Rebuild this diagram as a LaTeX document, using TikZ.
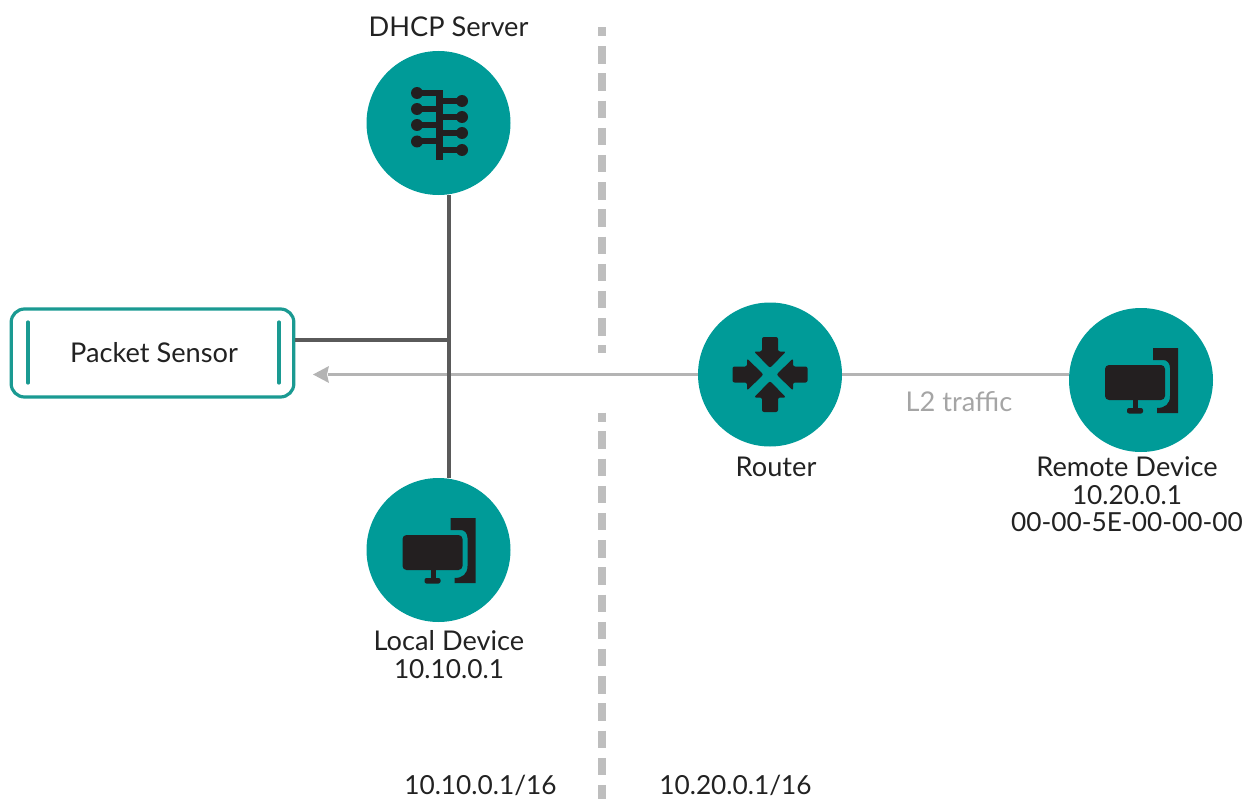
\documentclass[tikz,border=0pt]{standalone}
\usepackage{fontspec}
\setmainfont{Lato}
\definecolor{teal1}{HTML}{009B98}
\definecolor{boxteal}{HTML}{1A9A92}
\definecolor{icon}{HTML}{231F20}
\definecolor{wire}{HTML}{5A5A5A}
\definecolor{lightwire}{HTML}{B4B4B4}
\definecolor{divider}{HTML}{BEBEBE}
\definecolor{txt}{HTML}{222222}
\newcommand{\numsize}{\fontsize{19.7pt}{20.5pt}\selectfont}
\tikzset{
  devcircle/.style={circle,fill=teal1,minimum size=108pt,inner sep=0pt},
  lbl/.style={font=\fontsize{20.4pt}{20.5pt}\selectfont,text=txt,align=center,inner sep=0pt},
  wireline/.style={draw=wire,line width=2.6pt},
  lightline/.style={draw=lightwire,line width=2.8pt},
  divline/.style={draw=divider,line width=6.4pt,dash pattern=on 13.1pt off 7.3pt,dash phase=6.4pt},
  sensorbox/.style={draw=boxteal,line width=2.4pt,rounded corners=10pt,fill=white,minimum width=212pt,minimum height=66pt,inner sep=0pt},
  sensortick/.style={draw=boxteal,line width=2.4pt,line cap=round},
}
\newcommand{\computericon}[1]{%
  \begin{scope}[shift={(#1)}]
    \fill[icon,rounded corners=3pt] (-36,-15) rectangle (24,20);
    \fill[icon] (-8,20) rectangle (-3,31);
    \fill[icon,rounded corners=1.5pt] (-14,28) rectangle (2,33.5);
    \fill[icon] (12,-32) -- (37,-32) -- (37,33) -- (16,33) -- (16,28)
      .. controls (24,28) and (29,24) .. (29,16)
      -- (29,-12) .. controls (29,-17) and (26,-20) .. (22,-20) -- (12,-20) -- cycle;
  \end{scope}}
\newcommand{\routerarrow}[1]{%
  \begin{scope}[rotate=#1]
    \fill[icon,rounded corners=1.5pt] (-8,-37.5) -- (8,-37.5) -- (8,-23) -- (16,-23) -- (0,-6.5) -- (-16,-23) -- (-8,-23) -- cycle;
  \end{scope}}
\begin{document}
\begin{tikzpicture}[x=0.75pt,y=-0.75pt]
\useasboundingbox (0,0) rectangle (1247,799);
% positions
\coordinate (dhcpPos) at (438.5,123);
\coordinate (localPos) at (438.5,550);
\coordinate (routerPos) at (770,374.5);
\coordinate (remotePos) at (1141,380);
\coordinate (divTop) at (602,27.5);
\coordinate (divMidA) at (602,352.5);
\coordinate (divMidB) at (602,412.7);
\coordinate (divBot) at (602,799);
\coordinate (busX) at (449,0);
\coordinate (busJoin) at (449,340);
\coordinate (sensorIn) at (295,340);
\coordinate (arrowEnd) at (313,374.5);
\coordinate (arrowBase) at (328,374.5);
% divider
\draw[divline] (divTop) -- (divMidA);
\draw[divline] (divMidB) -- (divBot);
% nodes
\node[devcircle] (dhcp) at (dhcpPos) {};
\node[devcircle] (local) at (localPos) {};
\node[devcircle] (router) at (routerPos) {};
\node[devcircle] (remote) at (remotePos) {};
\node[sensorbox] (sensor) at (152.5,353) {};
\node[lbl] (sensorlabel) at (154,353) {Packet Sensor};
\draw[sensortick] (28,322) -- (28,383);
\draw[sensortick] (279,322) -- (279,383);
% connectors
\draw[lightline] (router.west) -- (arrowBase);
\fill[lightwire] (arrowEnd) -- (329,366) -- (327,374.5) -- (329,383) -- cycle;
\draw[lightline] (router.east) -- (remote.west |- router.east);
\draw[wireline] (dhcp.south -| busX) -- (local.north -| busX);
\draw[wireline] (sensor.east |- sensorIn) -- (busJoin);
% dhcp icon
\begin{scope}[shift={(dhcpPos)}]
  \fill[icon] (-2.5,-33) rectangle (4,37);
  \foreach \yy in {-30,-14,2,18.5}{
    \fill[icon] (-21.5,\yy-3) rectangle (0,\yy+3);
    \fill[icon] (-21.5,\yy) circle (6);
  }
  \foreach \yy in {-22,-6,10,27}{
    \fill[icon] (2,\yy-3) rectangle (23.5,\yy+3);
    \fill[icon] (23.5,\yy) circle (6);
  }
\end{scope}
% router icon
\begin{scope}[shift={(routerPos)}]
  \routerarrow{0}\routerarrow{90}\routerarrow{180}\routerarrow{270}
\end{scope}
\computericon{remotePos}
\computericon{localPos}
% labels
\node[lbl] (dhcpl) at (448.5,27) {DHCP Server};
\node[lbl] (routerl) at (776,467) {Router};
\node[lbl,text=lightwire!92!black] (l2) at (959,402) {L2 traffic};
\node[lbl] (remotel) at (1127,494.5) {Remote Device\\{\numsize 10.20.0.1}\\{\numsize 00-00-5E-00-00-00}};
\node[lbl] (locall) at (449,654.5) {Local Device\\{\numsize 10.10.0.1}};
\node[lbl,font=\numsize] (netl) at (480.5,785.5) {10.10.0.1/16};
\node[lbl,font=\numsize] (netr) at (735.5,785.5) {10.20.0.1/16};
\end{tikzpicture}
\end{document}
